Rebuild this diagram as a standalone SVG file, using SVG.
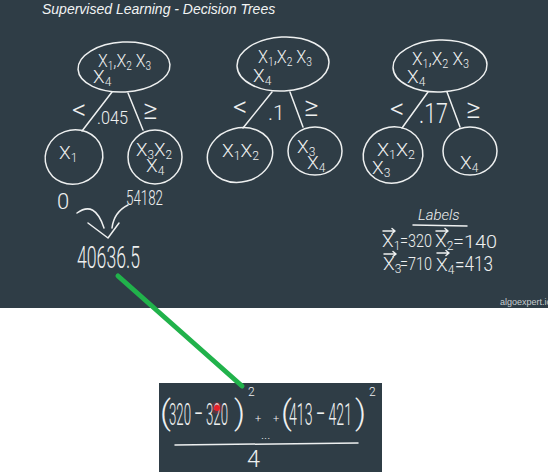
<svg xmlns="http://www.w3.org/2000/svg" width="548" height="472" viewBox="0 0 548 472">
<style>
.bg{fill:#2f3d46}
.ink{fill:none;stroke:#eef0f0;stroke-width:1.5;stroke-linecap:round;stroke-linejoin:round}
.t{fill:#eef0f0;font-family:Roboto,"Open Sans","DejaVu Sans",sans-serif;font-weight:300}
.x{font-size:19px}
.sub{font-size:12px}
.title{fill:#f2f4f4;font-family:"Liberation Sans",Arial,sans-serif;font-style:italic;font-size:14px}
.wm{fill:#c8cdd0;font-family:"Liberation Sans",Arial,sans-serif;font-size:9px}
</style>
<rect x="0" y="0" width="548" height="472" fill="#ffffff"/>
<rect class="bg" x="0" y="0" width="548" height="308"/>
<rect class="bg" x="159" y="383" width="223" height="89"/>
<text class="title" x="42" y="14">Supervised Learning - Decision Trees</text>
<text class="wm" x="500" y="305">algoexpert.io</text>

<g id="connectors">
<path class="ink" d="M112,92 L82,131"/>
<path class="ink" d="M128,93 L143,130"/>
<path class="ink" d="M272,92 L243,128"/>
<path class="ink" d="M290,92 L303,127"/>
<path class="ink" d="M428,92 L402,128"/>
<path class="ink" d="M447,92 L460,127"/>
<path class="ink" d="M77,213 Q95,200 104,228"/>
<path class="ink" d="M128,205 Q114,212 112,228"/>
<path class="ink" d="M88,223 L108,238 L119,223"/>
<path d="M118,276 L242,386" fill="none" stroke="#21b24b" stroke-width="5" stroke-linecap="round"/>
</g>

<!-- tree 1 -->
<g id="t1-root">
<ellipse class="ink" cx="124" cy="67" rx="46" ry="25" transform="rotate(-3 124 67)"/>
<text class="t x" x="98" y="67" textLength="53" lengthAdjust="spacingAndGlyphs">X<tspan class="sub" dy="3">1</tspan><tspan dy="-3">,X</tspan><tspan class="sub" dy="3">2</tspan><tspan dy="-3"> X</tspan><tspan class="sub" dy="3">3</tspan></text>
<text class="t x" x="93" y="83">X<tspan class="sub" dy="3">4</tspan></text>
</g>
<g id="t1-split">
<text class="t" x="72" y="119" font-size="28">&lt;</text>
<text class="t" x="97" y="124" font-size="18" textLength="31" lengthAdjust="spacingAndGlyphs">.045</text>
<text class="t" x="143" y="119" font-size="28">≥</text>
</g>
<g id="t1-left">
<ellipse class="ink" cx="74" cy="157" rx="29" ry="27" transform="rotate(-20 74 157)"/>
<text class="t x" x="59" y="159">X<tspan class="sub" dy="3">1</tspan></text>
</g>
<g id="t1-right">
<ellipse class="ink" cx="155" cy="157" rx="27" ry="27"/>
<text class="t x" x="136" y="156" textLength="36" lengthAdjust="spacingAndGlyphs">X<tspan class="sub" dy="3">3</tspan><tspan dy="-3">X</tspan><tspan class="sub" dy="3">2</tspan></text>
<text class="t x" x="146" y="172">X<tspan class="sub" dy="3">4</tspan></text>
</g>
<g id="t1-values">
<text class="t" x="57" y="209" font-size="22">0</text>
<text class="t" x="126" y="205" font-size="21" textLength="37" lengthAdjust="spacingAndGlyphs">54182</text>
<text class="t" x="77" y="268" font-size="31" textLength="63" lengthAdjust="spacingAndGlyphs">40636.5</text>
</g>

<!-- tree 2 -->
<g id="t2-root">
<ellipse class="ink" cx="283" cy="64" rx="46" ry="27" transform="rotate(-3 283 64)"/>
<text class="t x" x="258" y="63" textLength="54" lengthAdjust="spacingAndGlyphs">X<tspan class="sub" dy="3">1</tspan><tspan dy="-3">,X</tspan><tspan class="sub" dy="3">2</tspan><tspan dy="-3"> X</tspan><tspan class="sub" dy="3">3</tspan></text>
<text class="t x" x="253" y="82">X<tspan class="sub" dy="3">4</tspan></text>
</g>
<g id="t2-split">
<text class="t" x="233" y="116" font-size="28">&lt;</text>
<text class="t" x="268" y="120" font-size="21">.1</text>
<text class="t" x="304" y="116" font-size="28">≥</text>
</g>
<g id="t2-left">
<ellipse class="ink" cx="240" cy="155" rx="33" ry="27" transform="rotate(-15 240 155)"/>
<text class="t x" x="222" y="157" textLength="37" lengthAdjust="spacingAndGlyphs">X<tspan class="sub" dy="3">1</tspan><tspan dy="-3">X</tspan><tspan class="sub" dy="3">2</tspan></text>
</g>
<g id="t2-right">
<ellipse class="ink" cx="315" cy="151" rx="27" ry="24"/>
<text class="t x" x="297" y="153">X<tspan class="sub" dy="3">3</tspan></text>
<text class="t x" x="307" y="169">X<tspan class="sub" dy="3">4</tspan></text>
</g>

<!-- tree 3 -->
<g id="t3-root">
<ellipse class="ink" cx="440" cy="66" rx="47" ry="26" transform="rotate(-2 440 66)"/>
<text class="t x" x="412" y="65" textLength="57" lengthAdjust="spacingAndGlyphs">X<tspan class="sub" dy="3">1</tspan><tspan dy="-3">,X</tspan><tspan class="sub" dy="3">2</tspan><tspan dy="-3"> X</tspan><tspan class="sub" dy="3">3</tspan></text>
<text class="t x" x="407" y="83">X<tspan class="sub" dy="3">4</tspan></text>
</g>
<g id="t3-split">
<text class="t" x="390" y="118" font-size="28">&lt;</text>
<text class="t" x="419" y="123" font-size="27" textLength="29" lengthAdjust="spacingAndGlyphs">.17</text>
<text class="t" x="466" y="118" font-size="28">≥</text>
</g>
<g id="t3-left">
<ellipse class="ink" cx="393" cy="155" rx="30" ry="28" transform="rotate(-20 393 155)"/>
<text class="t x" x="377" y="156" textLength="38" lengthAdjust="spacingAndGlyphs">X<tspan class="sub" dy="3">1</tspan><tspan dy="-3">X</tspan><tspan class="sub" dy="3">2</tspan></text>
<text class="t x" x="372" y="174">X<tspan class="sub" dy="3">3</tspan></text>
</g>
<g id="t3-right">
<ellipse class="ink" cx="470" cy="151" rx="27" ry="24"/>
<text class="t x" x="460" y="169">X<tspan class="sub" dy="3">4</tspan></text>
</g>

<!-- labels -->
<g id="labels">
<text class="t" x="418" y="220" font-size="15" font-style="italic">Labels</text>
<path class="ink" d="M413,225 L467,226"/>
<path class="ink" d="M383,231 L395,231 M392,228.5 L395,231 L392,233.5"/>
<path class="ink" d="M436,231 L448,231 M445,228.5 L448,231 L445,233.5"/>
<path class="ink" d="M384,254 L396,254 M393,251.5 L396,254 L393,256.5"/>
<path class="ink" d="M437,253 L449,253 M446,250.5 L449,253 L446,255.5"/>
<text class="t x" x="382" y="247">X<tspan class="sub" dy="3">1</tspan></text>
<text class="t" x="400" y="247" font-size="19" textLength="32" lengthAdjust="spacingAndGlyphs">=320</text>
<text class="t x" x="435" y="247">X<tspan class="sub" dy="3">2</tspan></text>
<text class="t" x="453" y="248" font-size="19" textLength="44" lengthAdjust="spacingAndGlyphs">=140</text>
<text class="t x" x="383" y="270">X<tspan class="sub" dy="3">3</tspan></text>
<text class="t" x="400" y="270" font-size="19" textLength="32" lengthAdjust="spacingAndGlyphs">=710</text>
<text class="t x" x="436" y="271">X<tspan class="sub" dy="3">4</tspan></text>
<text class="t" x="455" y="271" font-size="21" textLength="38" lengthAdjust="spacingAndGlyphs">=413</text>
</g>

<!-- formula -->
<g id="formula">
<text class="t" x="160" y="424" font-size="34">(</text>
<text class="t" x="169" y="425" font-size="32" textLength="59" lengthAdjust="spacingAndGlyphs">320 – 320</text>
<text class="t" x="234" y="424" font-size="34">)</text>
<text class="t" x="248" y="396" font-size="12">2</text>
<text class="t" x="255" y="422" font-size="11">+</text>
<text class="t" x="261" y="439" font-size="13">...</text>
<text class="t" x="273" y="422" font-size="11">+</text>
<text class="t" x="281" y="424" font-size="34">(</text>
<text class="t" x="289" y="425" font-size="32" textLength="63" lengthAdjust="spacingAndGlyphs">413 – 421</text>
<text class="t" x="355" y="424" font-size="34">)</text>
<text class="t" x="369" y="396" font-size="12">2</text>
<path class="ink" d="M175,445 L358,443"/>
<text class="t" x="247" y="467" font-size="24" textLength="13" lengthAdjust="spacingAndGlyphs">4</text>
<circle cx="217" cy="408" r="6" fill="#e8202a" opacity="0.25"/>
<circle cx="217" cy="408" r="3" fill="#e8202a"/>
</g>
</svg>
